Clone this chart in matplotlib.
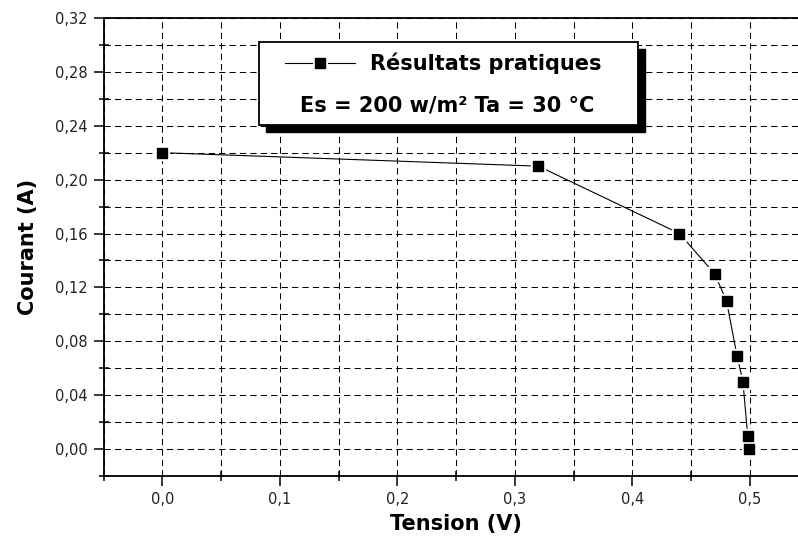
import matplotlib
matplotlib.use('Agg')
import matplotlib.pyplot as plt
from matplotlib.patches import Rectangle
from matplotlib.lines import Line2D

# data
tension = [0.0, 0.32, 0.44, 0.47, 0.48, 0.489, 0.494, 0.498, 0.499]
courant = [0.22, 0.21, 0.16, 0.13, 0.11, 0.069, 0.05, 0.01, 0.0]

x_ticks = [0.0, 0.1, 0.2, 0.3, 0.4, 0.5]
x_labels = ['0,0', '0,1', '0,2', '0,3', '0,4', '0,5']
x_minor = [-0.05, 0.05, 0.15, 0.25, 0.35, 0.45, 0.55]
y_ticks = [0.0, 0.04, 0.08, 0.12, 0.16, 0.20, 0.24, 0.28, 0.32]
y_labels = ['0,00', '0,04', '0,08', '0,12', '0,16', '0,20', '0,24', '0,28', '0,32']
y_minor = [-0.02, 0.02, 0.06, 0.10, 0.14, 0.18, 0.22, 0.26, 0.30]

legend_label = 'Résultats pratiques'
legend_cond = 'Es = 200 w/m² Ta = 30 °C'
xlabel = 'Tension (V)'
ylabel = 'Courant (A)'

plt.rcParams['font.family'] = ['DejaVu Sans']

fig = plt.figure(figsize=(7.98, 5.45), dpi=100)
ax = fig.add_axes([0.1298, 0.1266, 0.8837, 0.8404])

ax.set_xlim(-0.05, 0.55)
ax.set_ylim(-0.02, 0.32)

# curve: line, then white halo to cut gaps, then the black squares
ax.plot(tension, courant, '-', color='black', lw=0.8, zorder=3)
ax.plot(tension, courant, 's', color='white', ms=10, mec='white', zorder=4)
ax.plot(tension, courant, 's', color='black', ms=6.8, zorder=5)

ax.set_xticks(x_ticks)
ax.set_xticklabels(x_labels)
ax.set_xticks(x_minor, minor=True)
ax.set_yticks(y_ticks)
ax.set_yticklabels(y_labels)
ax.set_yticks(y_minor, minor=True)

grid_kw = dict(color='black', lw=0.75, linestyle=(0, (6, 4)))
ax.grid(True, which='both', **grid_kw)
ax.set_axisbelow(True)

ax.tick_params(which='major', direction='out', length=7.5, width=1.1,
               labelsize=10.5, pad=4, colors='black', labelcolor='#222222')
ax.tick_params(which='minor', direction='inout', length=7, width=1.1)
ax.tick_params(top=False, right=False)

for side in ['left', 'bottom', 'top', 'right']:
    ax.spines[side].set_linewidth(1.3)

ax.set_xlabel(xlabel, fontsize=15, fontweight='bold', labelpad=5)
ax.set_ylabel(ylabel, fontsize=15, fontweight='bold', labelpad=12)

# legend box with drop shadow (axes fraction coordinates)
bx0, by0, bw, bh = 0.2204, 0.7664, 0.5374, 0.1812
shadow = Rectangle((bx0 + 0.0099, by0 - 0.0153), bw, bh, transform=ax.transAxes,
                   facecolor='black', edgecolor='black', zorder=6)
box = Rectangle((bx0, by0), bw, bh, transform=ax.transAxes,
                facecolor='white', edgecolor='black', lw=1.3, zorder=7)
ax.add_patch(shadow)
ax.add_patch(box)

ly = 0.9017
ax.add_line(Line2D([0.2572, 0.2960], [ly, ly], color='black', lw=0.8,
                   transform=ax.transAxes, zorder=8))
ax.add_line(Line2D([0.3180, 0.3565], [ly, ly], color='black', lw=0.8,
                   transform=ax.transAxes, zorder=8))
ax.add_line(Line2D([0.3069], [ly], marker='s', ms=6.8, color='black',
                   transform=ax.transAxes, zorder=8))
ax.text(0.3778, ly, legend_label, transform=ax.transAxes, fontsize=15,
        fontweight='bold', va='center', ha='left', zorder=8)
ax.text(0.4877, 0.8079, legend_cond, transform=ax.transAxes, fontsize=15,
        fontweight='bold', va='center', ha='center', zorder=8)

fig.savefig('out.png', dpi=100)
